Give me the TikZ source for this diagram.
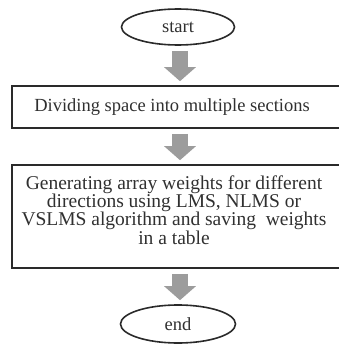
\documentclass[tikz,border=0pt]{standalone}
\usepackage{fontspec}
\setmainfont{Liberation Serif}
\usetikzlibrary{arrows.meta,shapes.geometric}
\definecolor{edge}{HTML}{2A2A2A}
\definecolor{txt}{HTML}{303030}
\definecolor{arr}{HTML}{9C9C9C}
\tikzset{
  term/.style={ellipse, draw=edge, line width=1.6pt, minimum width=113pt, minimum height=36pt, inner sep=0pt},
  boxstep/.style={rectangle, draw=edge, line width=1.6pt, inner sep=0pt},
  lbl/.style={text=txt, font=\fontsize{18.5}{18.4}\selectfont, align=center, inner sep=0pt},
  flow/.style={line width=16pt, arr, -{Triangle[width=31pt,length=14pt]}, shorten <=5pt, shorten >=4pt}
}
\begin{document}
\begin{tikzpicture}[x=1pt,y=-1pt]
\useasboundingbox (0,0) rectangle (339,345);
\clip (0,0) rectangle (339,345);
\node[term] (start) at (178,27) {};
\node[lbl] (starttxt) at (178,27) {start};
\node[boxstep, minimum width=329pt, minimum height=42pt] (box1) at (176.5,107) {};
\node[lbl] (box1txt) at (172,107) {Dividing space into multiple sections};
\node[boxstep, minimum width=329pt, minimum height=103pt] (box2) at (176.5,216.5) {};
\node[lbl, font=\fontsize{19.5}{18.4}\selectfont] (box2txt) at (174,210) {Generating array weights for different\\directions using LMS, NLMS or\\VSLMS algorithm and saving\ \ weights\\in a table};
\node[term, minimum width=115pt, minimum height=38pt] (end) at (178,324) {};
\node[lbl] (endtxt) at (178,324) {end};
\draw[flow] (start.south -| 180,0) -- (box1.north -| 180,0);
\draw[flow] (box1.south -| 180,0) -- (box2.north -| 180,0);
\draw[flow] (box2.south -| 180,0) -- (end.north -| 180,0);
\end{tikzpicture}
\end{document}
